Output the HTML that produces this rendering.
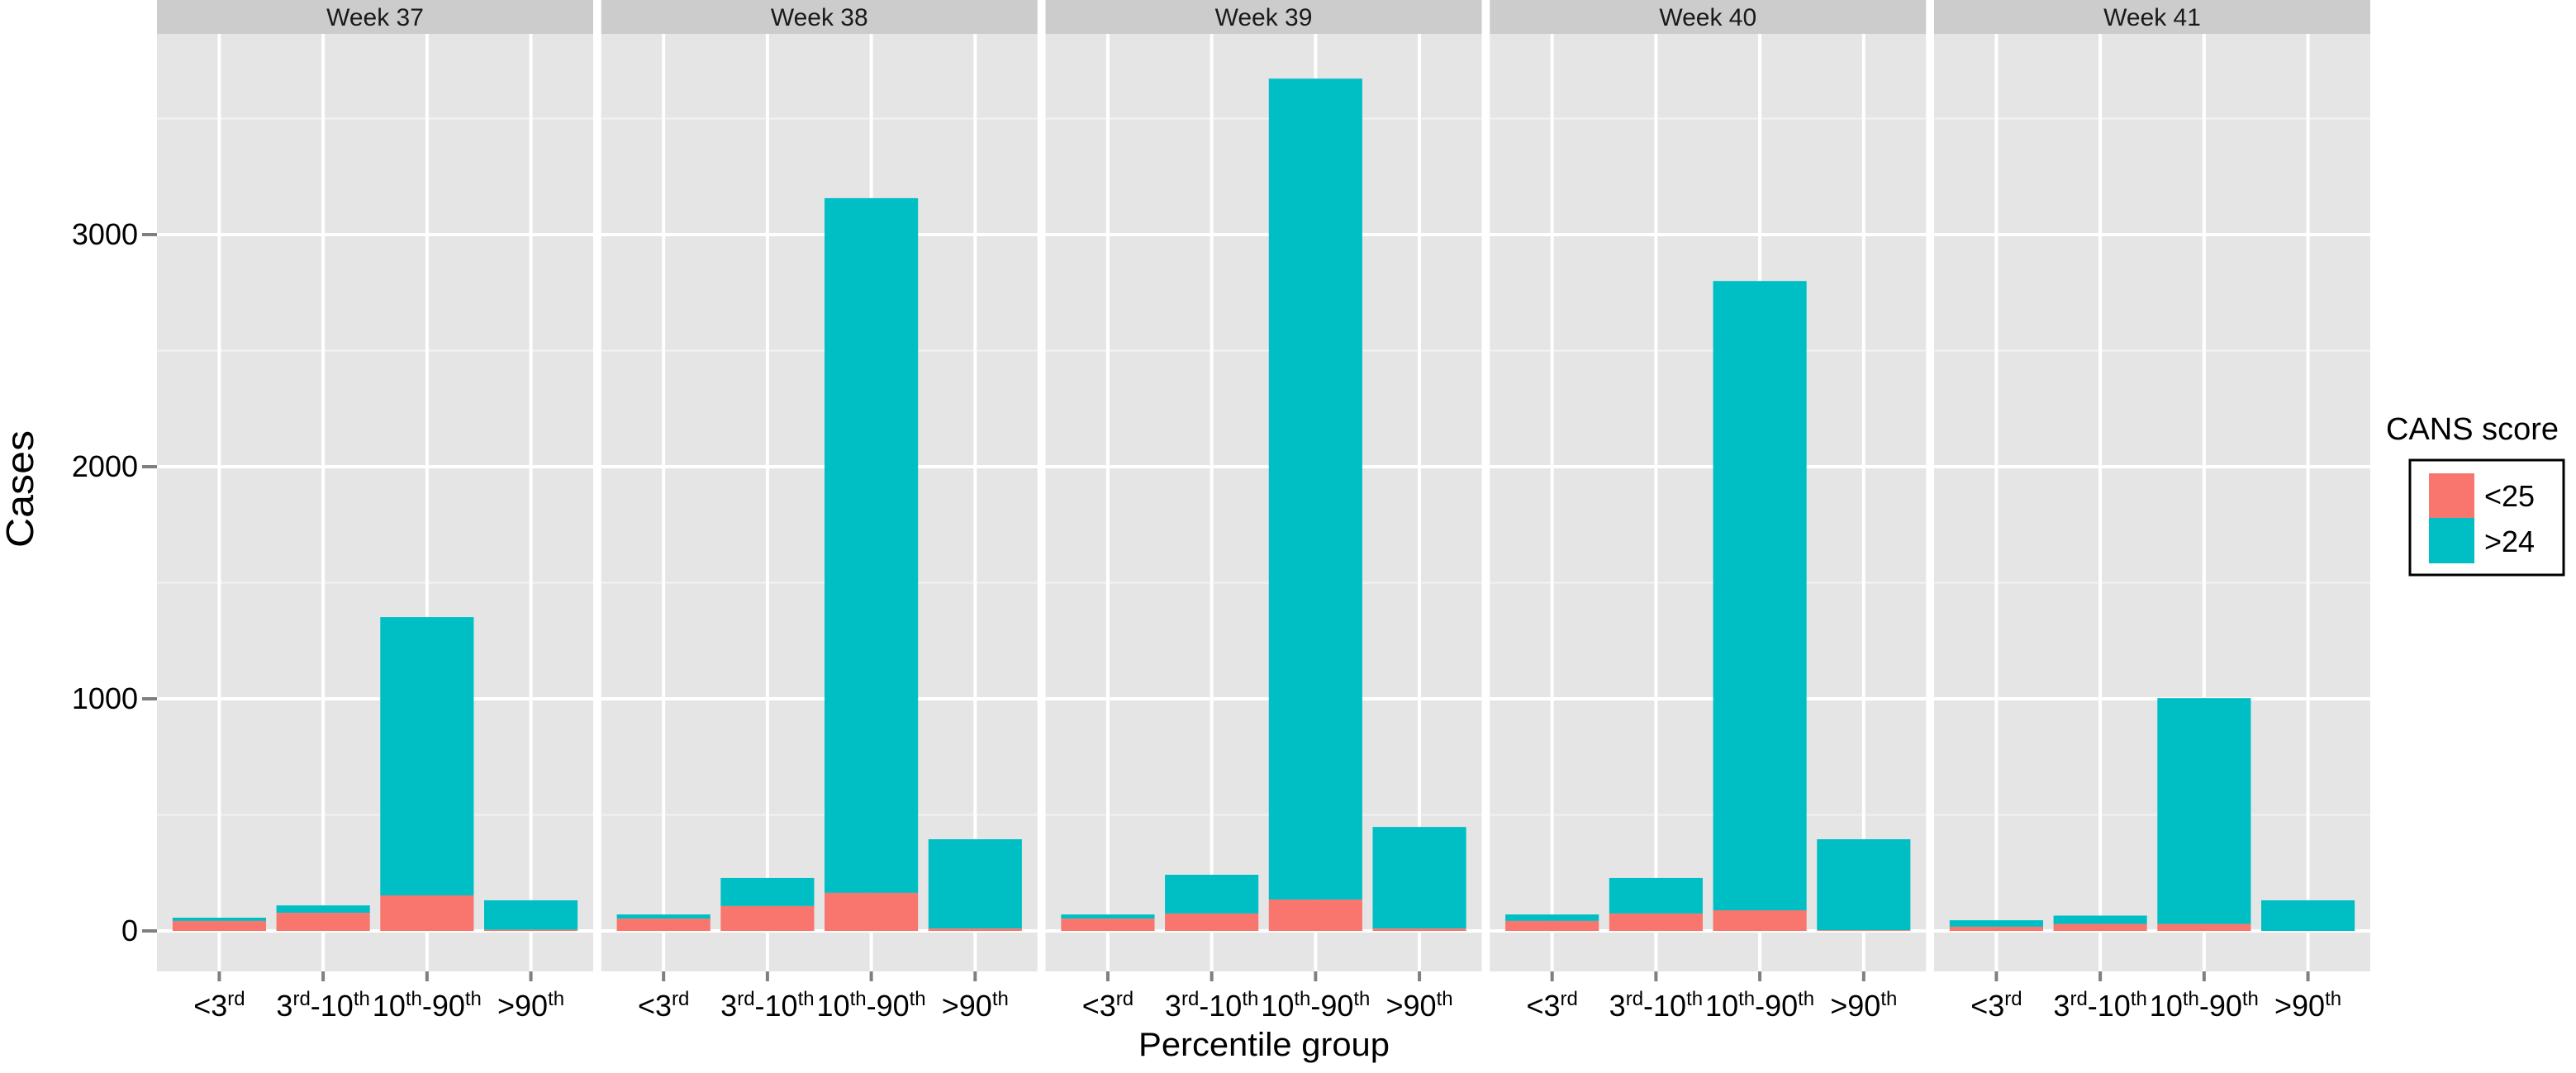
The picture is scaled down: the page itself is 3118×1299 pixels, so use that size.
<!DOCTYPE html>
<html><head><meta charset="utf-8"><style>
html,body{margin:0;padding:0;background:#fff;}
svg{display:block;font-family:"Liberation Sans",sans-serif;}
</style></head><body>
<svg id="chart" width="3118" height="1299" viewBox="0 0 3118 1299" xmlns="http://www.w3.org/2000/svg">
<text x="0" y="0" transform="translate(40,592) rotate(-90)" text-anchor="middle" font-size="46" textLength="142" lengthAdjust="spacingAndGlyphs">Cases</text>
<text x="1530" y="1278" text-anchor="middle" font-size="40" textLength="304" lengthAdjust="spacingAndGlyphs">Percentile group</text>
<g>
<text x="2888" y="532" font-size="38">CANS score</text>
<rect x="2917" y="557" width="186" height="139" fill="#fff" stroke="#000" stroke-width="3"/>
<rect x="2940" y="573" width="55" height="54" fill="#F8766D"/>
<rect x="2940" y="627" width="55" height="55" fill="#00BFC4"/>
<text x="3007" y="613" font-size="36">&lt;25</text>
<text x="3007" y="668" font-size="36">&gt;24</text>
</g>
</svg>
<script>
const weeks = ["Week 37","Week 38","Week 39","Week 40","Week 41"];
const categories = ["<3rd","3rd-10th","10th-90th",">90th"];
const lowScore = [
  [43, 78, 153, 5],
  [53, 107, 164, 10],
  [53, 75, 135, 10],
  [43, 75, 89, 3],
  [18, 30, 30, 0]
];
const totalCases = [
  [57, 110, 1352, 132],
  [71, 228, 3157, 395],
  [71, 242, 3672, 448],
  [71, 228, 2800, 395],
  [46, 66, 1003, 132]
];
const yTicks = [0, 1000, 2000, 3000];
const yMinor = [500, 1500, 2500, 3500];
const tickParts = [["<3","rd"],["3","rd","-10","th"],["10","th","-90","th"],[">90","th"]];

(function(){
const NS = "http://www.w3.org/2000/svg";
const svg = document.getElementById("chart");
const panelX0 = 190, panelW = 528, panelGap = 9.75, plotTop = 41, plotBottom = 1176, stripTop = 0;
const y0px = 1127, pxPer = 0.281;
function yScale(v){ return y0px - v*pxPer; }
function xScale(p, i){ const unit = panelW/4.2; return panelX0 + p*(panelW+panelGap) + (i+0.6)*unit; }
function mk(tag, attrs, parent){ const e = document.createElementNS(NS, tag); for (const k in attrs) e.setAttribute(k, attrs[k]); (parent||svg).appendChild(e); return e; }

yTicks.forEach(t => {
  const tx = mk("text", {x:167, y:yScale(t)+12, "text-anchor":"end", "font-size":36, fill:"#000"});
  
  
  tx.textContent = t;
  const tk = mk("line", {x1:172, x2:190, y1:yScale(t), y2:yScale(t), stroke:"#7f7f7f", "stroke-width":4});
  
  
});

weeks.forEach((w, p) => {
  const px = panelX0 + p*(panelW+panelGap);
  const g = mk("g", {});
  
  
  const bg = mk("rect", {x:px, y:plotTop, width:panelW, height:plotBottom-plotTop, fill:"#E5E5E5"}, g);
  
  
  const st = mk("rect", {x:px, y:stripTop, width:panelW, height:plotTop-stripTop, fill:"#CCCCCC"}, g);
  
  
  const sl = mk("text", {x:px+panelW/2, y:31, "text-anchor":"middle", "font-size":30, fill:"#1a1a1a"}, g);
  
  
  sl.textContent = w;
  yMinor.forEach(t => {
    const l = mk("line", {x1:px, x2:px+panelW, y1:yScale(t), y2:yScale(t), stroke:"#F2F2F2", "stroke-width":2}, g);
    
    
  });
  yTicks.forEach(t => {
    const l = mk("line", {x1:px, x2:px+panelW, y1:yScale(t), y2:yScale(t), stroke:"#fff", "stroke-width":4}, g);
    
    
  });
  categories.forEach((c, i) => {
    const cx = xScale(p, i);
    const l = mk("line", {x1:cx, x2:cx, y1:plotTop, y2:plotBottom, stroke:"#fff", "stroke-width":4}, g);
    
    
  });
  categories.forEach((c, i) => {
    const cx = xScale(p, i), bw = 0.9*panelW/4.2;
    const tot = totalCases[p][i], low = lowScore[p][i];
    const hi = mk("rect", {x:cx-bw/2, y:yScale(tot), width:bw, height:Math.max(0, yScale(low)-yScale(tot)), fill:"#00BFC4"}, g);
    
    
    const lo = mk("rect", {x:cx-bw/2, y:yScale(low), width:bw, height:Math.max(0, yScale(0)-yScale(low)), fill:"#F8766D"}, g);
    
    
    const tk = mk("line", {x1:cx, x2:cx, y1:plotBottom, y2:plotBottom+12, stroke:"#7f7f7f", "stroke-width":4}, g);
    
    
    const tx = mk("text", {x:cx, y:1230, "text-anchor":"middle", "font-size":36, fill:"#000"}, g);
    
    
    tickParts[i].forEach((part, k) => {
      const ts = mk("tspan", {}, tx);
      if (k % 2 === 1) { ts.setAttribute("font-size", 24); ts.setAttribute("dy", -13); }
      else if (k > 0) { ts.setAttribute("dy", 13); }
      ts.textContent = part;
    });
  });
});
})();
</script>
</body></html>
